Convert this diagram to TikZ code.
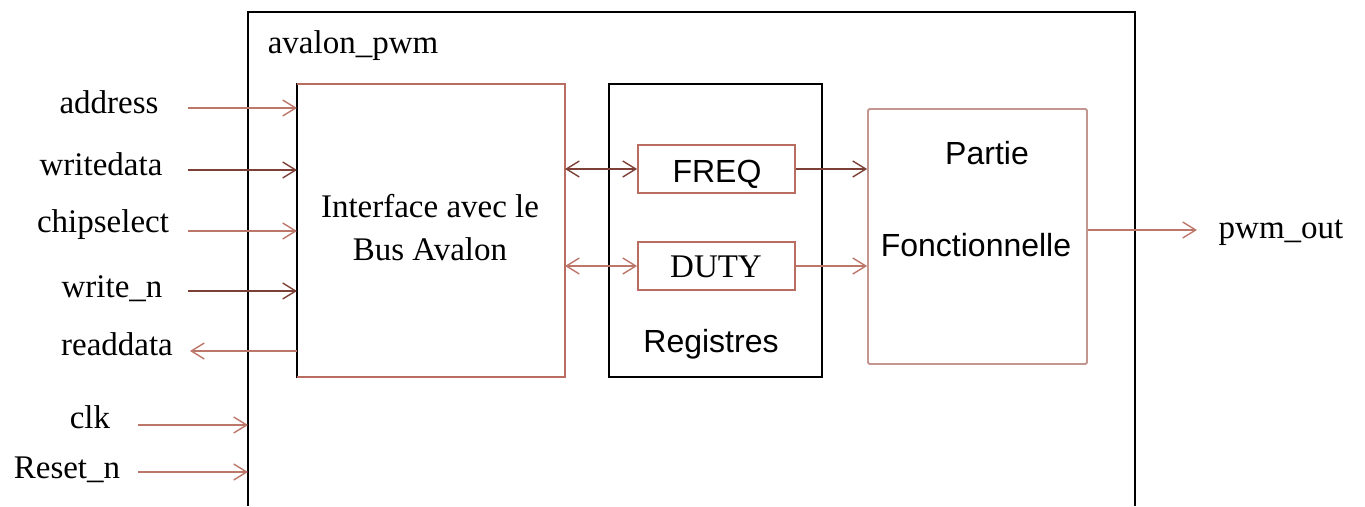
\documentclass[tikz,border=0pt]{standalone}
\usepackage{fontspec}
\newfontfamily\sansf{Liberation Sans}
\newfontfamily\seriff{Liberation Serif}
\usetikzlibrary{arrows.meta}
\definecolor{sigL}{RGB}{188,118,106}
\definecolor{sigD}{RGB}{125,64,54}
\definecolor{boxB}{RGB}{185,108,96}
\definecolor{boxP}{RGB}{196,150,144}
\tikzset{
  serif/.style={font=\seriff\fontsize{33}{37}\selectfont, inner sep=0pt, anchor=base},
  sans/.style={font=\sansf\fontsize{32}{36}\selectfont, inner sep=0pt, anchor=base},
  blk/.style={draw=black, line width=2pt, inner sep=0pt, outer sep=0pt},
  tip/.style={-{Straight Barb[length=13pt,width=16pt,line width=1.4pt]}},
  dtip/.style={{Straight Barb[length=13pt,width=16pt,line width=1.4pt]}-{Straight Barb[length=13pt,width=16pt,line width=1.4pt]}},
  sigl/.style={draw=sigL, line width=1.6pt},
  sigd/.style={draw=sigD, line width=1.6pt},
}
\begin{document}
\begin{tikzpicture}[x=1pt,y=-1pt]
\useasboundingbox (0,0) rectangle (1365,506);
% outer component box (open at bottom)
\draw[line width=2pt] (248,506) -- (248,12) -- (1135,12) -- (1135,506);
\node[serif] (title) at (353,53) {avalon\_pwm};
% interface box
\node[blk, minimum width=268pt, minimum height=293pt] (iface) at (431,230.5) {};
\draw[boxB, line width=1.8pt] (iface.north west) -- (iface.north east) -- (iface.south east) -- (iface.south west);
\node[serif] (ifl1) at (430,217) {Interface avec le};
\node[serif] (ifl2) at (430,260) {Bus Avalon};
% registres box
\node[blk, minimum width=213pt, minimum height=293pt] (regs) at (715.5,230.5) {};
\node[sans] (regl) at (711,352) {Registres};
\node[draw=boxB, line width=1.8pt, minimum width=157pt, minimum height=48pt, inner sep=0pt] (freq) at (716.5,169) {};
\node[sans] (freql) at (717,182) {FREQ};
\node[draw=boxB, line width=1.8pt, minimum width=157pt, minimum height=48pt, inner sep=0pt] (duty) at (716.5,266) {};
\node[serif] (dutyl) at (716,277) {DUTY};
% partie fonctionnelle
\node[draw=boxP, line width=1.8pt, rounded corners=1.5pt, minimum width=219pt, minimum height=255pt, inner sep=0pt] (pf) at (977.5,236.5) {};
\node[sans] (pfl1) at (987,164) {Partie};
\node[sans] (pfl2) at (976,256) {Fonctionnelle};
% input labels
\node[serif] (la) at (109,113) {address};
\node[serif] (lw) at (101,175) {writedata};
\node[serif] (lc) at (103,232) {chipselect};
\node[serif] (ln) at (112,297) {write\_n};
\node[serif] (lr) at (117,355) {readdata};
\node[serif] (lk) at (90,428) {clk};
\node[serif] (lrs) at (67,478) {Reset\_n};
\node[serif] (lo) at (1281,238) {pwm\_out};
% free ends
\coordinate (ca) at (188,108);
\coordinate (cw) at (188,170);
\coordinate (cc) at (188,231);
\coordinate (cn) at (188,291);
\coordinate (cr) at (190,351);
\coordinate (ck) at (138,425);
\coordinate (cs) at (138,472);
\coordinate (co) at (1197,230);
\coordinate (top) at (248,425);
\coordinate (tops) at (248,472);
% signals
\draw[sigl, tip] (ca) -- (iface.west |- ca);
\draw[sigd, tip] (cw) -- (iface.west |- cw);
\draw[sigl, tip] (cc) -- (iface.west |- cc);
\draw[sigd, tip] (cn) -- (iface.west |- cn);
\draw[sigl, tip] (iface.west |- cr) -- (cr);
\draw[sigl, tip] (ck) -- (top);
\draw[sigl, tip] (cs) -- (tops);
\draw[sigd, dtip] (iface.east |- freq.west) -- (freq.west);
\draw[sigl, dtip] (iface.east |- duty.west) -- (duty.west);
\draw[sigd, tip] (freq.east) -- (pf.west |- freq.east);
\draw[sigl, tip] (duty.east) -- (pf.west |- duty.east);
\draw[sigl, tip] (pf.east |- co) -- (co);
\end{tikzpicture}
\end{document}
